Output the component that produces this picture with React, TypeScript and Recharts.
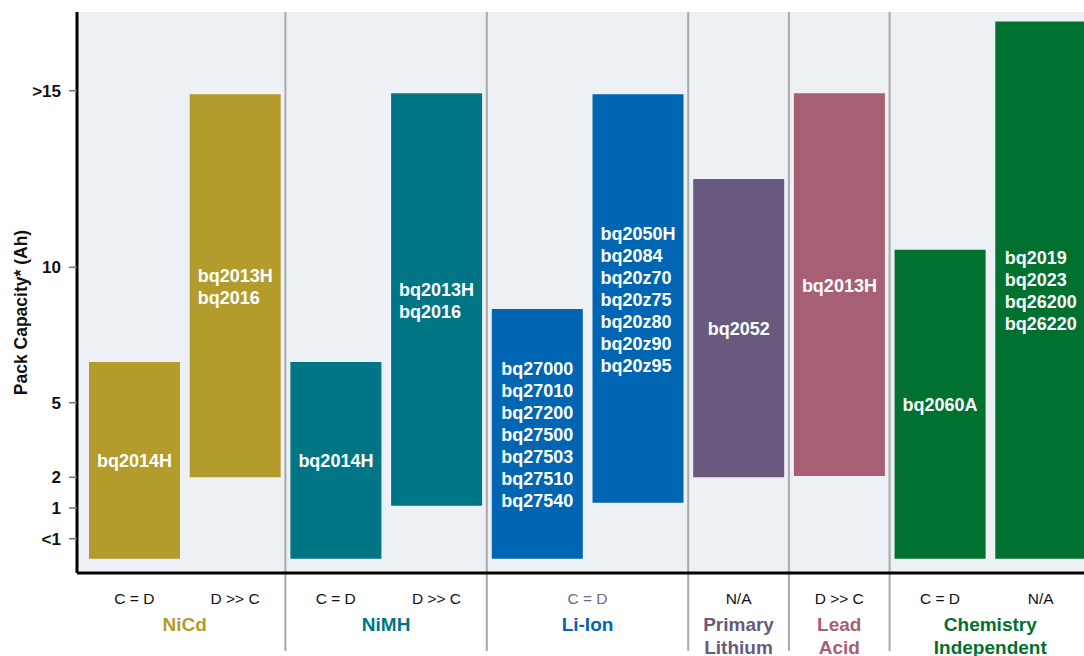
import { Bar, BarChart, CartesianGrid, Cell, LabelList, ReferenceLine, XAxis, YAxis } from 'recharts'

const FONT = '"Liberation Sans", Arial, Helvetica, sans-serif'

// the value axis in the original is stretched by hand, so values go through these knots
const SCALE_VALUES = [0, 0.5, 1, 2, 5, 10, 15, 20]
const SCALE_POS = [14.3, 34.3, 65, 95.7, 170.3, 305.7, 482.3, 561]
const TICK_VALUES = [0.5, 1, 2, 5, 10, 15]
const TICK_LABELS = ['<1', '1', '2', '5', '10', '>15']

const BAR_LOW = [0, 2, 0, 1.07, 0, 1.17, 2, 2.05, 0, 0]
const BAR_HIGH = [6.5, 14.9, 6.5, 14.93, 8.46, 14.9, 12.5, 14.93, 10.5, 19.4]
const BAR_MODE = ['C = D', 'D >> C', 'C = D', 'D >> C', '', '', 'N/A', 'D >> C', 'C = D', 'N/A']
const BAR_GROUP = [0, 0, 1, 1, 2, 2, 3, 4, 5, 5]
const BAR_PARTS = [
  ['bq2014H'],
  ['bq2013H', 'bq2016'],
  ['bq2014H'],
  ['bq2013H', 'bq2016'],
  ['bq27000', 'bq27010', 'bq27200', 'bq27500', 'bq27503', 'bq27510', 'bq27540'],
  ['bq2050H', 'bq2084', 'bq20z70', 'bq20z75', 'bq20z80', 'bq20z90', 'bq20z95'],
  ['bq2052'],
  ['bq2013H'],
  ['bq2060A'],
  ['bq2019', 'bq2023', 'bq26200', 'bq26220'],
]

const GROUP_NAMES = [['NiCd'], ['NiMH'], ['Li-Ion'], ['Primary', 'Lithium'], ['Lead', 'Acid'], ['Chemistry', 'Independent']]
const GROUP_MODE = ['', '', 'C = D', '', '', '']
const GROUP_COLORS = ['#b39b2c', '#007586', '#0066b3', '#675a7e', '#a65f73', '#00712f']

const CHART_W = 1091
const CHART_H = 656
const Y_W = 77
const PAD_LEFT = 7
const SLOT = (CHART_W - Y_W - PAD_LEFT) / BAR_LOW.length
const PART_SIZE = 18
const PART_LINE = 22

function toPos(v: number) {
  for (let i = 1; i < SCALE_VALUES.length; i++) {
    if (v <= SCALE_VALUES[i]) {
      const t = (v - SCALE_VALUES[i - 1]) / (SCALE_VALUES[i] - SCALE_VALUES[i - 1])
      return SCALE_POS[i - 1] + t * (SCALE_POS[i] - SCALE_POS[i - 1])
    }
  }
  return SCALE_POS[SCALE_POS.length - 1]
}

const data = BAR_LOW.map((low, i) => ({
  name: `c${i}`,
  range: [toPos(low), toPos(BAR_HIGH[i])],
}))

const groupStarts = BAR_GROUP.map((g, i) => (i > 0 && g !== BAR_GROUP[i - 1] ? i : -1)).filter(i => i > 0)

let ctx: CanvasRenderingContext2D | null = null
function textWidth(t: string) {
  if (!ctx) ctx = document.createElement('canvas').getContext('2d')
  if (!ctx) return t.length * 10.3
  ctx.font = `bold ${PART_SIZE}px ${FONT}`
  return ctx.measureText(t).width
}

function PartsLabel(props: any) {
  const { x, y, width, height, index } = props
  const lines = BAR_PARTS[index]
  if (!lines) return null
  const w = Math.max(...lines.map(textWidth))
  const left = x + width / 2 - w / 2
  const top = Math.min(y, y + height)
  const cy = top + Math.abs(height) / 2
  return (
    <text fill="#fff" fontWeight={700} fontSize={PART_SIZE} fontFamily={FONT}>
      {lines.map((l, k) => (
        <tspan key={k} x={left} y={cy + (k - (lines.length - 1) / 2) * PART_LINE + 7}>
          {l}
        </tspan>
      ))}
    </text>
  )
}

function GroupTick({ x, y, payload }: any) {
  const i = payload.index
  const g = BAR_GROUP[i]
  const first = BAR_GROUP.indexOf(g) === i
  const count = BAR_GROUP.filter(v => v === g).length
  const gx = x + ((count - 1) * SLOT) / 2
  return (
    <g fontFamily={FONT}>
      {BAR_MODE[i] && (
        <text x={x} y={y + 31} textAnchor="middle" fontSize={15.5} fill="#111">
          {BAR_MODE[i]}
        </text>
      )}
      {first && GROUP_MODE[g] && (
        <text x={gx} y={y + 31} textAnchor="middle" fontSize={15.5} fill="#6d6b8c">
          {GROUP_MODE[g]}
        </text>
      )}
      {first && (
        <text textAnchor="middle" fontSize={19} fontWeight={700} fill={GROUP_COLORS[g]}>
          {GROUP_NAMES[g].map((n, k) => (
            <tspan key={k} x={gx} y={y + 58 + k * 23}>
              {n}
            </tspan>
          ))}
        </text>
      )}
    </g>
  )
}

function Separator(p: any) {
  const top = Math.min(p.y1, p.y2)
  const bottom = Math.max(p.y1, p.y2)
  return <line x1={p.x1} x2={p.x2} y1={top} y2={bottom + 78} stroke="#a9a9a9" strokeWidth={2} />
}

export default function App() {
  return (
    <div style={{ position: 'absolute', left: 0, top: 0, width: 1084, height: CHART_H, overflow: 'hidden', background: '#fff' }}>
      <BarChart width={CHART_W} height={CHART_H} data={data} margin={{ top: 12, right: 0, bottom: 0, left: 0 }}>
        <CartesianGrid horizontal={false} vertical={false} fill="#edf0f4" stroke="none" />
        {groupStarts.map(i => (
          <ReferenceLine key={i} x={data[i].name} position="start" shape={<Separator />} />
        ))}
        <XAxis
          dataKey="name"
          interval={0}
          padding={{ left: PAD_LEFT, right: 0 }}
          height={CHART_H - 12 - 561}
          tickLine={false}
          tickSize={0}
          tickMargin={0}
          axisLine={{ stroke: '#000', strokeWidth: 3 }}
          tick={<GroupTick />}
        />
        <YAxis
          type="number"
          domain={[0, 561]}
          allowDataOverflow
          width={Y_W}
          ticks={TICK_VALUES.map(toPos)}
          tickFormatter={(v: number) => TICK_LABELS[TICK_VALUES.map(toPos).findIndex(p => Math.abs(p - v) < 0.01)] ?? ''}
          tickSize={8}
          tickMargin={8}
          tickLine={{ stroke: '#777', strokeWidth: 1.5 }}
          axisLine={{ stroke: '#000', strokeWidth: 3 }}
          tick={{ fill: '#111', fontSize: 17, fontWeight: 700, fontFamily: FONT }}
          label={{
            content: ({ viewBox }: any) => {
              const cy = viewBox.y + viewBox.height / 2 + 20
              return (
                <text
                  x={27}
                  y={cy}
                  transform={`rotate(-90, 27, ${cy})`}
                  textAnchor="middle"
                  fontSize={17.5}
                  fontWeight={700}
                  fontFamily={FONT}
                  fill="#111"
                >
                  Pack Capacity* (Ah)
                </text>
              )
            },
          }}
        />
        <Bar dataKey="range" barSize={91} isAnimationActive={false}>
          {data.map((d, i) => (
            <Cell key={d.name} fill={GROUP_COLORS[BAR_GROUP[i]]} />
          ))}
          <LabelList dataKey="range" content={<PartsLabel />} />
        </Bar>
      </BarChart>
    </div>
  )
}
